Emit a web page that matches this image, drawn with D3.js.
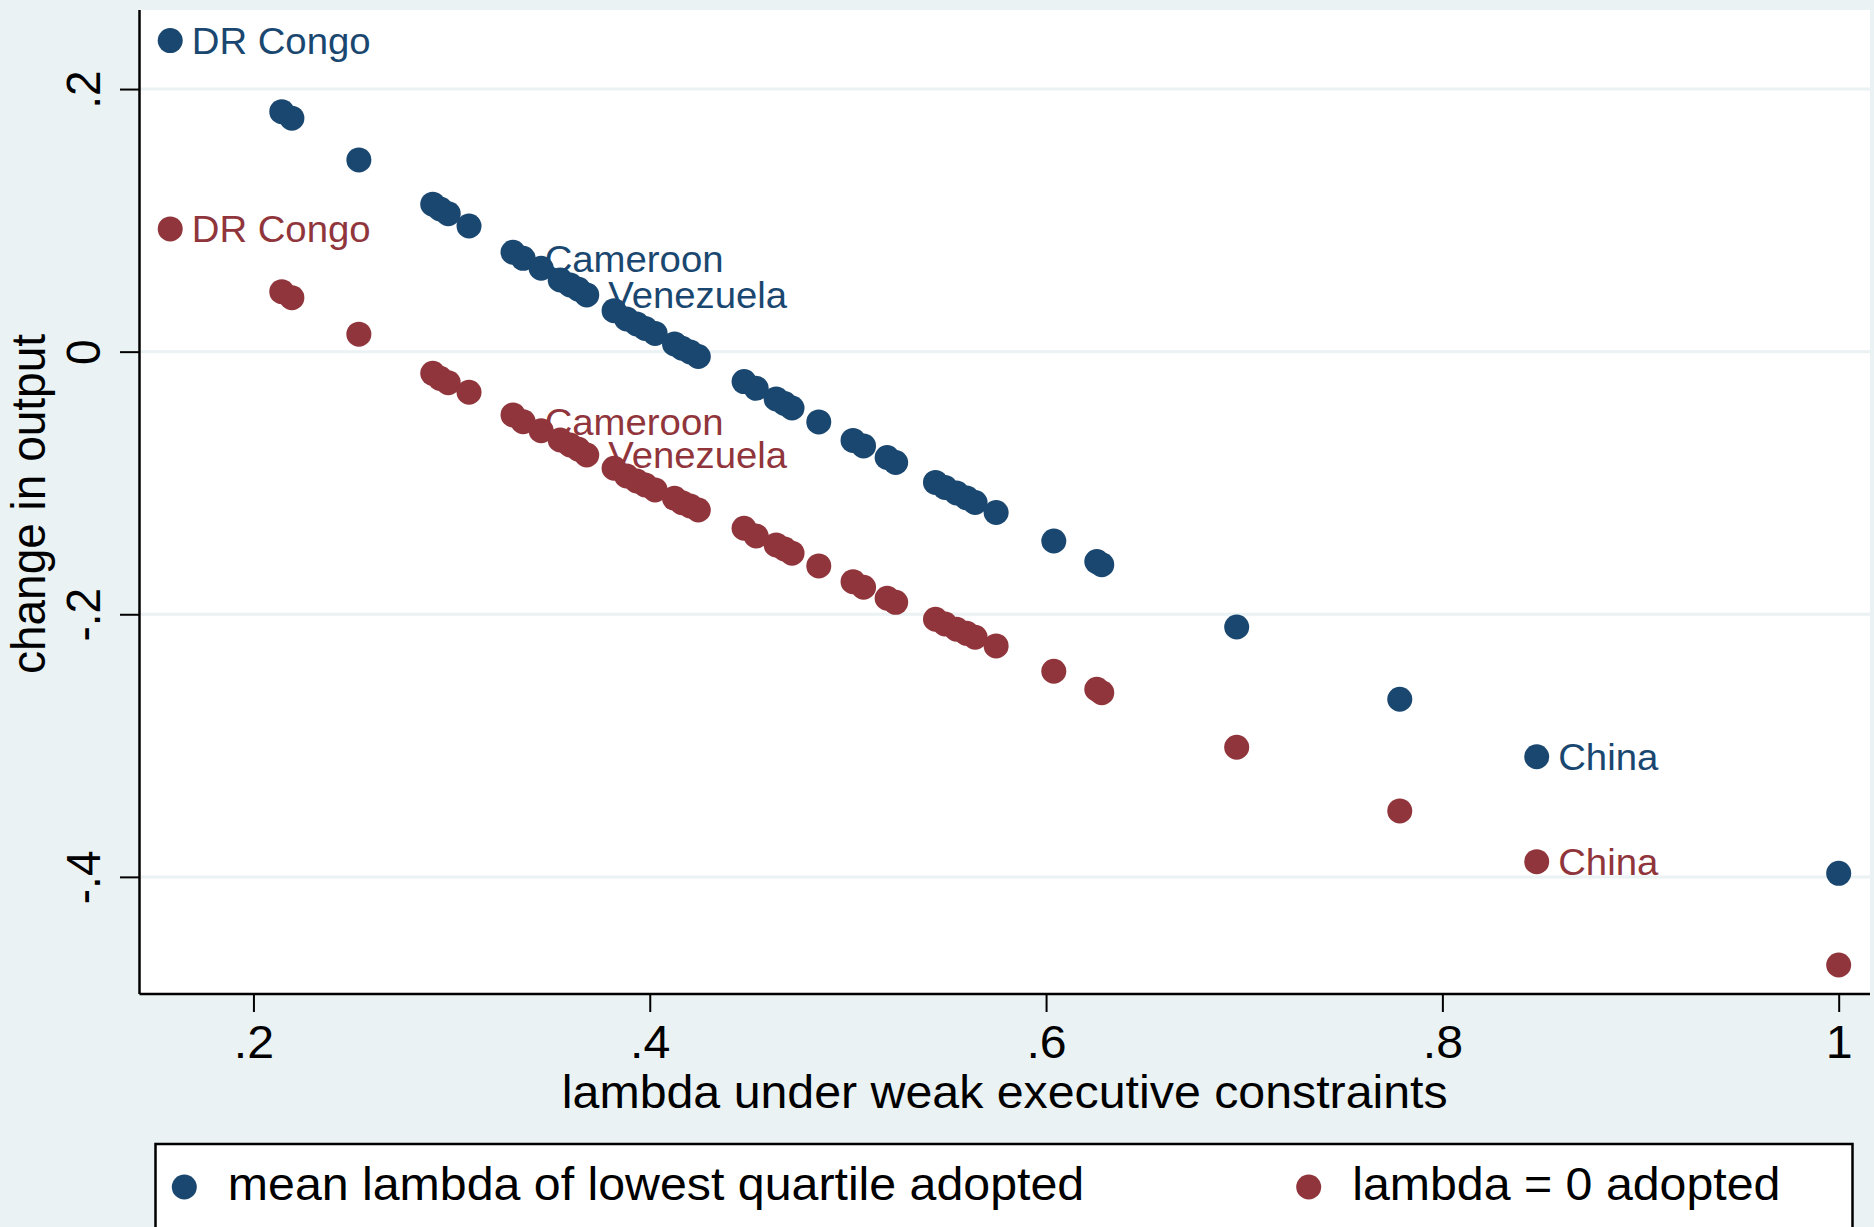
<!DOCTYPE html>
<html>
<head>
<meta charset="utf-8">
<script src="https://cdn.jsdelivr.net/npm/d3@7"></script>
<style>
  html, body { margin: 0; padding: 0; background: #eaf2f3; }
  svg { display: block; }
  text { font-family: "Liberation Sans", Arial, Helvetica, sans-serif; }
</style>
</head>
<body>
<svg id="chart" width="1874" height="1227"></svg>
<script>
// lambda under weak executive constraints, one value per country
const lambda = [
  0.158, 0.2143, 0.2194, 0.2532, 0.2905, 0.2942, 0.2983, 0.3088, 0.3310, 0.3361,
  0.3452, 0.3548, 0.3598, 0.3640, 0.3682, 0.3820, 0.3883, 0.3934, 0.3977, 0.4027,
  0.4125, 0.4163, 0.4204, 0.4245, 0.4476, 0.4537, 0.4638, 0.4680, 0.4718, 0.4853,
  0.5026, 0.5079, 0.5198, 0.5241, 0.5442, 0.5490, 0.5548, 0.5599, 0.5642, 0.5748,
  0.6039, 0.6256, 0.6281, 0.6962, 0.7785, 0.8476, 1.0
];

// change in output when the mean lambda of the lowest quartile is adopted
const changeMeanQuartile = [
  0.2369, 0.1828, 0.1778, 0.1460, 0.1123, 0.1087, 0.1051, 0.0957, 0.0757, 0.0711,
  0.0635, 0.0546, 0.0508, 0.0475, 0.0432, 0.0312, 0.0249, 0.0211, 0.0177, 0.0139,
  0.0059, 0.0026, -0.0002, -0.0037, -0.0228, -0.0279, -0.0360, -0.0395, -0.0429, -0.0535,
  -0.0676, -0.0718, -0.0806, -0.0844, -0.0996, -0.1034, -0.1076, -0.1114, -0.1149, -0.1225,
  -0.1442, -0.1599, -0.1622, -0.2097, -0.2647, -0.3085, -0.3973
];

// change in output when lambda = 0 is adopted
const changeLambdaZero = [
  0.0935, 0.0457, 0.0411, 0.0133, -0.0165, -0.0203, -0.0236, -0.0309, -0.0482, -0.0533,
  -0.0602, -0.0673, -0.0711, -0.0743, -0.0787, -0.0888, -0.0947, -0.0985, -0.1015, -0.1053,
  -0.1117, -0.1150, -0.1175, -0.1206, -0.1345, -0.1404, -0.1472, -0.1503, -0.1535, -0.1632,
  -0.1752, -0.1794, -0.1878, -0.1909, -0.2038, -0.2074, -0.2114, -0.2145, -0.2175, -0.2241,
  -0.2434, -0.2571, -0.2597, -0.3013, -0.3498, -0.3884, -0.4671
];

// countries that carry a marker label (index into the arrays above)
const labelIndex = [0, 9, 14, 45];
const labelText  = ["DR Congo", "Cameroon", "Venezuela", "China"];

const xTicks = [0.2, 0.4, 0.6, 0.8, 1];
const xTickLabels = [".2", ".4", ".6", ".8", "1"];
const yTicks = [0.2, 0, -0.2, -0.4];
const yTickLabels = [".2", "0", "-.2", "-.4"];

const seriesNames = ["mean lambda of lowest quartile adopted", "lambda = 0 adopted"];
const seriesColors = ["#1a476f", "#90353b"];
const xTitle = "lambda under weak executive constraints";
const yTitle = "change in output";

// ---- layout ----
const W = 1874, H = 1227;
const plot = { left: 139.5, right: 1870, top: 10, bottom: 994 };
const BG = "#eaf2f3";
const FONT_AXIS = 46, FONT_LABEL = 36.5, STRETCH = 1.05;
const R = 12.5;

const svg = d3.select("#chart");
svg.append("rect").attr("width", W).attr("height", H).attr("fill", BG);

const x = d3.scaleLinear().domain([0.1425, 1.0158]).range([plot.left, plot.right]);
const y = d3.scaleLinear().domain([-0.4892, 0.2602]).range([plot.bottom, plot.top]);

// plot region
svg.append("rect")
  .attr("x", plot.left).attr("y", plot.top)
  .attr("width", plot.right - plot.left).attr("height", plot.bottom - plot.top)
  .attr("fill", "#ffffff");

// horizontal grid lines
svg.append("g").selectAll("line").data(yTicks).join("line")
  .attr("x1", plot.left).attr("x2", plot.right)
  .attr("y1", d => y(d)).attr("y2", d => y(d))
  .attr("stroke", BG).attr("stroke-width", 3);

// helper: text slightly widened horizontally
function stretchedText(sel, tx, ty, rot) {
  return sel.attr("transform", `translate(${tx},${ty}) scale(${STRETCH},1)` + (rot ? ` rotate(${rot})` : ""));
}

// x axis
const xAxis = d3.axisBottom(x).tickValues(xTicks).tickSize(18).tickFormat((d, i) => xTickLabels[i]);
const gx = svg.append("g").attr("transform", `translate(0,${plot.bottom})`).call(xAxis);
gx.select(".domain").attr("d", `M${plot.left},0H${plot.right}`).attr("stroke", "#000").attr("stroke-width", 2.5);
gx.selectAll(".tick line").attr("stroke", "#000").attr("stroke-width", 2);
gx.selectAll(".tick text").remove();
gx.selectAll(".tick").each(function (d, i) {
  const t = d3.select(this).append("text")
    .attr("text-anchor", "middle").attr("font-size", FONT_AXIS).attr("fill", "#000")
    .text(xTickLabels[i]);
  stretchedText(t, 0, 64.3);
});

// y axis
const yAxis = d3.axisLeft(y).tickValues(yTicks).tickSize(19.5).tickFormat((d, i) => yTickLabels[i]);
const gy = svg.append("g").attr("transform", `translate(${plot.left},0)`).call(yAxis);
gy.select(".domain").attr("d", `M0,${plot.top}V${plot.bottom}`).attr("stroke", "#000").attr("stroke-width", 2.5);
gy.selectAll(".tick line").attr("stroke", "#000").attr("stroke-width", 2);
gy.selectAll(".tick text").remove();
gy.selectAll(".tick").each(function (d, i) {
  const t = d3.select(this).append("text")
    .attr("text-anchor", "middle").attr("font-size", FONT_AXIS).attr("fill", "#000")
    .text(yTickLabels[i]);
  stretchedText(t, -39.5, 0, -90);
});

// axis titles
stretchedText(svg.append("text")
  .attr("text-anchor", "middle").attr("font-size", FONT_AXIS).attr("fill", "#000")
  .text(xTitle), (plot.left + plot.right) / 2 / STRETCH * STRETCH, 1108);
stretchedText(svg.append("text")
  .attr("text-anchor", "middle").attr("font-size", FONT_AXIS).attr("fill", "#000")
  .text(yTitle), 45, 504, -90);

// markers
const series = [changeMeanQuartile, changeLambdaZero];
series.forEach((vals, s) => {
  const g = svg.append("g");
  g.selectAll("circle").data(vals).join("circle")
    .attr("cx", (d, i) => x(lambda[i]))
    .attr("cy", d => y(d))
    .attr("r", R)
    .attr("fill", seriesColors[s]);
});

// marker labels, to the right of the marker
series.forEach((vals, s) => {
  labelIndex.forEach((idx, k) => {
    const t = svg.append("text")
      .attr("font-size", FONT_LABEL).attr("fill", seriesColors[s])
      .text(labelText[k]);
    stretchedText(t, x(lambda[idx]) + 21.5, y(vals[idx]) + 13.3);
  });
});

// legend
const leg = svg.append("g");
leg.append("rect")
  .attr("x", 155.5).attr("y", 1144).attr("width", 1852.5 - 155.5).attr("height", 120)
  .attr("fill", "#ffffff").attr("stroke", "#000").attr("stroke-width", 2.5);
const legX = [184.3, 1308.7];
seriesNames.forEach((name, s) => {
  leg.append("circle").attr("cx", legX[s]).attr("cy", 1187).attr("r", R).attr("fill", seriesColors[s]);
  stretchedText(leg.append("text")
    .attr("font-size", FONT_AXIS).attr("fill", "#000").text(name), legX[s] + 43.5, 1200);
});
</script>
</body>
</html>
